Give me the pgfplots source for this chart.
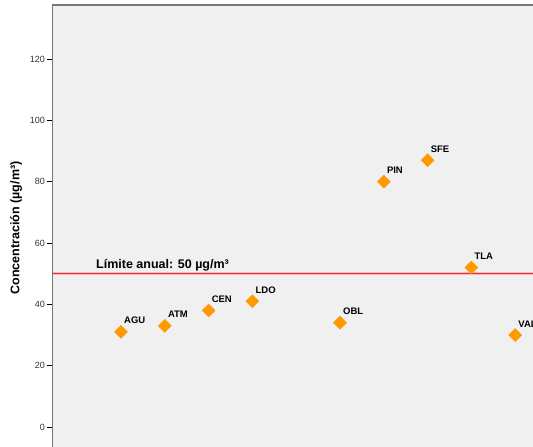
\documentclass[border=0pt]{standalone}
\usepackage{fontspec}
\setmainfont{Liberation Sans}
\usepackage{pgfplots}
\pgfplotsset{compat=1.18}
\definecolor{ptorange}{RGB}{255,153,0}
\definecolor{limred}{RGB}{228,48,58}
\definecolor{bgray}{RGB}{240,240,240}
\definecolor{framegray}{RGB}{120,120,120}
\begin{document}
\begin{tikzpicture}
\path[use as bounding box] (0pt,0pt) rectangle (533pt,447pt);
\clip (0pt,0pt) rectangle (533pt,447pt);
\begin{axis}[
  at={(52.5pt,-10.7pt)}, anchor=south west,
  scale only axis, width=506.5pt, height=452.7pt,
  xmin=-0.564, xmax=11, ymin=-10, ymax=137.6,
  axis background/.style={fill=bgray},
  axis line style={framegray, line width=1.6pt},
  xtick=\empty,
  ytick={0,20,40,60,80,100,120},
  ytick pos=left, tick align=outside,
  major tick length=5.5pt,
  tick style={black, line width=0.8pt},
  yticklabel style={font=\fontsize{9}{10}\selectfont, text=black!80, xshift=1.5pt},
  /pgf/number format/assume math mode=true,
  clip=false,
]
\addplot[limred!35, line width=3.2pt, forget plot] coordinates {(-0.564,50) (11,50)};
\addplot[limred, line width=1.4pt, forget plot] coordinates {(-0.564,50) (11,50)};
\node[anchor=base west, font=\fontsize{12.5}{14}\selectfont\bfseries, inner sep=0pt]
  at (axis cs:0.429,50) [yshift=5pt] {Límite anual: 50 µg/m³};
\addplot[only marks, mark=square*, mark size=4.6pt,
  mark options={rotate=45, fill=ptorange, draw=ptorange},
  nodes near coords, point meta=explicit symbolic,
  every node near coord/.style={anchor=base west, inner sep=0pt, xshift=3pt, yshift=8pt,
    font=\fontsize{9.5}{10}\selectfont\bfseries, text=black}]
table[meta=lab] {
x y lab
1 31 AGU
2 33 ATM
3 38 CEN
4 41 LDO
6 34 OBL
7 80 PIN
8 87 SFE
9 52 TLA
10 30 VAL
};
\end{axis}
\node[rotate=90, font=\fontsize{12.5}{14}\selectfont\bfseries] at (16pt,219pt) {Concentración (µg/m³)};
\end{tikzpicture}
\end{document}
